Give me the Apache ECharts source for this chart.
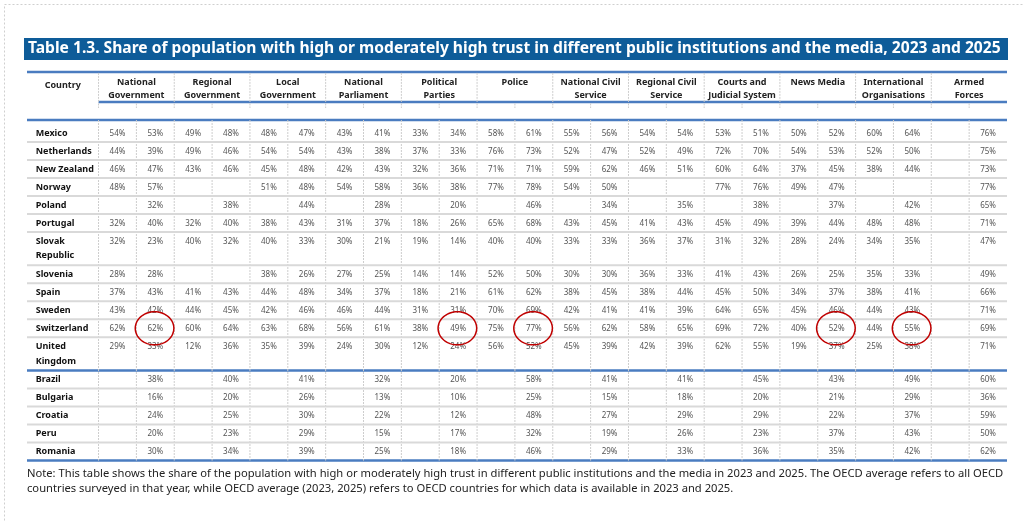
<!DOCTYPE html>
<html>
<head>
<meta charset="utf-8">
<script src="https://cdn.jsdelivr.net/npm/echarts@6/dist/echarts.min.js"></script>
<style>
html,body{margin:0;padding:0;background:#fff;}
#chart{width:1024px;height:522px;}
</style>
</head>
<body>
<div id="chart"></div>
<script>
// ---------- DATA ----------
const titleText = 'Table 1.3. Share of population with high or moderately high trust in different public institutions and the media, 2023 and 2025';
const noteText = 'Note: This table shows the share of the population with high or moderately high trust in different public institutions and the media in 2023 and 2025. The OECD average refers to all OECD\ncountries surveyed in that year, while OECD average (2023, 2025) refers to OECD countries for which data is available in 2023 and 2025.';
const countryHeader = 'Country';
const institutions = ['National\nGovernment','Regional\nGovernment','Local\nGovernment','National\nParliament','Political\nParties','Police','National Civil\nService','Regional Civil\nService','Courts and\nJudicial System','News Media','International\nOrganisations','Armed\nForces'];

// pairs per institution: [2023, 2025]
const mexico        = [54,53,49,48,48,47,43,41,33,34,58,61,55,56,54,54,53,51,50,52,60,64,null,76];
const netherlands   = [44,39,49,46,54,54,43,38,37,33,76,73,52,47,52,49,72,70,54,53,52,50,null,75];
const newZealand    = [46,47,43,46,45,48,42,43,32,36,71,71,59,62,46,51,60,64,37,45,38,44,null,73];
const norway        = [48,57,null,null,51,48,54,58,36,38,77,78,54,50,null,null,77,76,49,47,null,null,null,77];
const poland        = [null,32,null,38,null,44,null,28,null,20,null,46,null,34,null,35,null,38,null,37,null,42,null,65];
const portugal      = [32,40,32,40,38,43,31,37,18,26,65,68,43,45,41,43,45,49,39,44,48,48,null,71];
const slovakRep     = [32,23,40,32,40,33,30,21,19,14,40,40,33,33,36,37,31,32,28,24,34,35,null,47];
const slovenia      = [28,28,null,null,38,26,27,25,14,14,52,50,30,30,36,33,41,43,26,25,35,33,null,49];
const spain         = [37,43,41,43,44,48,34,37,18,21,61,62,38,45,38,44,45,50,34,37,38,41,null,66];
const sweden        = [43,42,44,45,42,46,46,44,31,31,70,69,42,41,41,39,64,65,45,46,44,43,null,71];
const switzerland   = [62,62,60,64,63,68,56,61,38,49,75,77,56,62,58,65,69,72,40,52,44,55,null,69];
const unitedKingdom = [29,33,12,36,35,39,24,30,12,24,56,52,45,39,42,39,62,55,19,37,25,38,null,71];

// 2025 only
const brazil   = [38,40,41,32,20,58,41,41,45,43,49,60];
const bulgaria = [16,20,26,13,10,25,15,18,20,21,29,36];
const croatia  = [24,25,30,22,12,48,27,29,29,22,37,59];
const peru     = [20,23,29,15,17,32,19,26,23,37,43,50];
const romania  = [30,34,39,25,18,46,29,33,36,35,42,62];

const sectionA = [['Mexico',mexico],['Netherlands',netherlands],['New Zealand',newZealand],['Norway',norway],['Poland',poland],['Portugal',portugal],['Slovak\nRepublic',slovakRep],['Slovenia',slovenia],['Spain',spain],['Sweden',sweden],['Switzerland',switzerland],['United\nKingdom',unitedKingdom]];
const sectionB = [['Brazil',brazil],['Bulgaria',bulgaria],['Croatia',croatia],['Peru',peru],['Romania',romania]];

// highlighted cells: [country, column index]
const highlights = [['Switzerland',1],['Switzerland',9],['Switzerland',11],['Switzerland',19],['Switzerland',21]];

// ---------- LAYOUT (in axis units) ----------
const NCOL = 24, LEFTCOL = -1.89;
const HDR_UNDER = 1.667, HDR_TICK = 2.0, HDR_BOTTOM = 2.667, DATA_START = 2.889;
const rows = []; // {name, vals, y0, y1, section}
let y = DATA_START;
sectionA.forEach(([n, v]) => { const h = n.includes('\n') ? 1.85 : 1; rows.push({name:n, vals:v, y0:y, y1:y+h, sec:0}); y += h; });
const endA = y;
sectionB.forEach(([n, v]) => {
  const full = []; v.forEach(x => { full.push(null, x); });
  rows.push({name:n, vals:full, y0:y, y1:y+1, sec:1}); y += 1;
});
const endB = y;

// cells
const cells = [];
rows.forEach((r) => r.vals.forEach((v, c) => { if (v != null) cells.push({x:c, y:r.y0, text:v + '%'}); }));

// lines: [x0,y0,x1,y1,kind]
const lines = [];
const blue = 'b', gray = 'g', vgray = 'v';
lines.push([LEFTCOL, 0, NCOL, 0, blue]);
lines.push([0, HDR_UNDER, NCOL, HDR_UNDER, blue]);
lines.push([LEFTCOL, HDR_BOTTOM, NCOL, HDR_BOTTOM, blue]);
lines.push([LEFTCOL, endA, NCOL, endA, blue]);
lines.push([LEFTCOL, endB, NCOL, endB, blue]);
for (let g = 0; g < institutions.length; g++) lines.push([2*g, 0.05, 2*g, HDR_UNDER, vgray]);
for (let c = 0; c < NCOL; c++) { lines.push([c, HDR_UNDER + 0.08, c, HDR_TICK, vgray]); lines.push([c, HDR_BOTTOM, c, endB, vgray]); }
rows.forEach((r, i) => {
  const next = rows[i+1];
  if (next && next.sec === r.sec) lines.push([LEFTCOL, r.y1, NCOL, r.y1, gray]);
});
const lineStyles = {
  b: {stroke:'#4a7cc0', lineWidth:2.5},
  g: {stroke:'#d9d9d9', lineWidth:2},
  v: {stroke:'#cdcdcd', lineWidth:1, lineDash:[2,1]}
};

// headers
const headerItems = institutions.map((t, g) => ({x: 2*g + 1, text: t}));

const hiItems = highlights.map(([n, c]) => { const r = rows.find(rr => rr.name === n); return {x:c, y:r.y0}; });

// ---------- CHART ----------
const chart = echarts.init(document.getElementById('chart'), null, {renderer:'canvas'});
const FONT = '"Noto Sans", "Open Sans", sans-serif';

const option = {
  animation: false,
  title: [
    {text: titleText, left: 28, top: 38, padding: 0,
     textStyle: {color:'#fff', fontSize: 15.6, fontWeight:'bold', fontFamily: FONT, lineHeight: 22}},
    {text: noteText, left: 27, top: 466, padding: 0,
     textStyle: {color:'#222', fontSize: 11.2, fontWeight:'normal', fontFamily: FONT, lineHeight: 15.3}}
  ],
  graphic: [
    {type:'rect', left:2, top:2, z:-10, shape:{width:1100, height:700}, style:{fill:'none', stroke:'#cfcfcf', lineDash:[2,2], lineWidth:1}},
    {type:'rect', left:24, top:38, z:-5, shape:{width:984, height:22}, style:{fill:'#0e5c99'}}
  ],
  grid: {left: 27, right: 17, top: 72, height: 390},
  xAxis: {type:'value', min: LEFTCOL, max: NCOL, show:false},
  yAxis: {type:'value', min: 0, max: 21.667, inverse: true, show:false},
  series: [
    { // table rules
      type:'custom', silent:true, clip:false, z:1,
      data: lines.map(l => [l[0], l[1], l[2], l[3]]),
      renderItem: (params, api) => {
        const p0 = api.coord([api.value(0), api.value(1)]);
        const p1 = api.coord([api.value(2), api.value(3)]);
        const st = lineStyles[lines[params.dataIndex][4]];
        return {type:'line', shape:{x1:p0[0], y1:p0[1], x2:p1[0], y2:p1[1]}, style: Object.assign({fill:null}, st)};
      }
    },
    { // values
      type:'custom', silent:true, clip:false, z:3,
      data: cells.map(c => [c.x, c.y]),
      renderItem: (params, api) => {
        const p = api.coord([api.value(0) + 0.5, api.value(1) + 0.5]);
        return {type:'text', x:p[0], y:p[1] + 0.5, style:{text: cells[params.dataIndex].text, align:'center', verticalAlign:'middle', fill:'#555', fontSize:8, fontFamily: FONT}};
      }
    },
    { // country names
      type:'custom', silent:true, clip:false, z:3,
      data: rows.map(r => [LEFTCOL, r.y0]),
      renderItem: (params, api) => {
        const p = api.coord([api.value(0) + 0.23, api.value(1) + 0.5]);
        const parts = rows[params.dataIndex].name.split('\n');
        return {type:'group', children: parts.map((t, i) => ({type:'text', x:p[0], y:p[1] + i*14.7, style:{text:t, align:'left', verticalAlign:'middle', fill:'#111', fontSize:9, fontWeight:'bold', fontFamily: FONT}}))};
      }
    },
    { // column headers
      type:'custom', silent:true, clip:false, z:3,
      data: headerItems.map(h => [h.x, 0.572]).concat([[LEFTCOL/2, 0.76]]),
      renderItem: (params, api) => {
        const p = api.coord([api.value(0), api.value(1)]);
        const txt = params.dataIndex < headerItems.length ? headerItems[params.dataIndex].text : countryHeader;
        const parts = txt.split('\n');
        return {type:'group', children: parts.map((t, i) => ({type:'text', x:p[0], y:p[1] + i*12.7, style:{text:t, align:'center', verticalAlign:'middle', fill:'#222', fontSize:9, fontWeight:'bold', fontFamily: FONT}}))};
      }
    },
    { // highlight ellipses
      type:'custom', silent:true, clip:false, z:4,
      data: hiItems.map(h => [h.x, h.y]),
      renderItem: (params, api) => {
        const c = api.coord([api.value(0) + 0.48, api.value(1) + 0.5]);
        const s = api.size([1, 1]);
        const rx = s[0] * 0.51, ry = s[1] * 0.92;
        const pts = [];
        for (let k = 0; k < 64; k++) { const a = k / 64 * Math.PI * 2; pts.push([c[0] + rx*Math.cos(a), c[1] + ry*Math.sin(a)]); }
        return {type:'polygon', shape:{points: pts}, style:{fill:'none', stroke:'#c00000', lineWidth:1.5}};
      }
    }
  ]
};
chart.setOption(option);
</script>
</body>
</html>
